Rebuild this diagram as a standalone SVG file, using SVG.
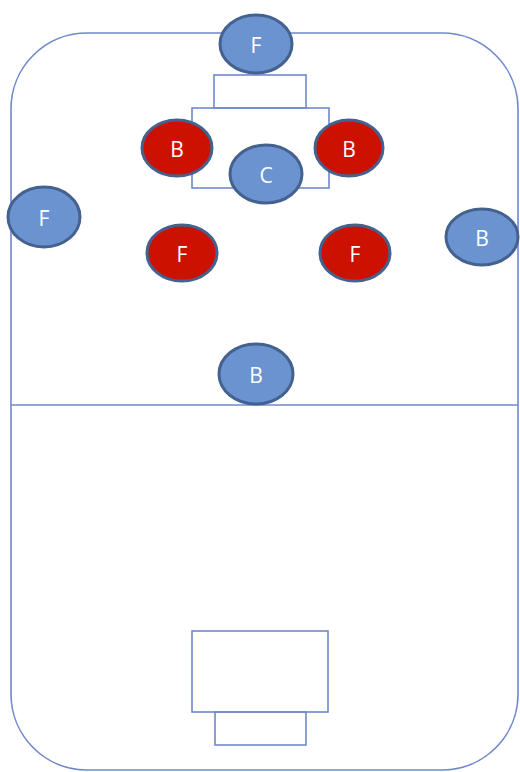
<svg xmlns="http://www.w3.org/2000/svg" width="520" height="772" viewBox="0 0 520 772">
<style>
.line{fill:none;stroke:#7088cc;stroke-width:1.6}
.blue{fill:#6b93d0;stroke:#44628f;stroke-width:3}
.red{fill:#cc1100;stroke:#44628f;stroke-width:3}
.lbl{fill:#ffffff;font-family:"Open Sans","Liberation Sans",sans-serif;font-size:21px;text-anchor:middle;dominant-baseline:central}
</style>
<rect width="520" height="772" fill="#ffffff"/>
<g id="field">
<rect class="line" x="11" y="33" width="507" height="737" rx="76" ry="76"/>
<line class="line" x1="11" y1="405" x2="518" y2="405"/>
<rect class="line" x="192" y="108" width="137" height="80"/>
<rect class="line" x="214" y="75" width="92" height="33"/>
<rect class="line" x="192" y="631" width="136" height="81"/>
<rect class="line" x="215" y="712" width="91" height="33"/>
</g>
<g id="connectors"></g>
<g id="f-top"><ellipse class="blue" cx="256" cy="44" rx="36" ry="29"/><text class="lbl" x="256" y="45">F</text></g>
<g id="b-left"><ellipse class="red" cx="177" cy="148" rx="35" ry="28"/><text class="lbl" x="177" y="149">B</text></g>
<g id="b-right"><ellipse class="red" cx="349" cy="148" rx="34" ry="28"/><text class="lbl" x="349" y="149">B</text></g>
<g id="c"><ellipse class="blue" cx="266" cy="174" rx="36" ry="29"/><text class="lbl" x="266" y="175">C</text></g>
<g id="f-wing"><ellipse class="blue" cx="44" cy="217" rx="36" ry="30"/><text class="lbl" x="44" y="218">F</text></g>
<g id="b-wing"><ellipse class="blue" cx="482" cy="237" rx="36" ry="28"/><text class="lbl" x="482" y="238">B</text></g>
<g id="f-red-left"><ellipse class="red" cx="182" cy="253" rx="35" ry="28"/><text class="lbl" x="182" y="254">F</text></g>
<g id="f-red-right"><ellipse class="red" cx="355" cy="253" rx="35" ry="28"/><text class="lbl" x="355" y="254">F</text></g>
<g id="b-mid"><ellipse class="blue" cx="256" cy="374" rx="37" ry="30"/><text class="lbl" x="256" y="375">B</text></g>
</svg>
